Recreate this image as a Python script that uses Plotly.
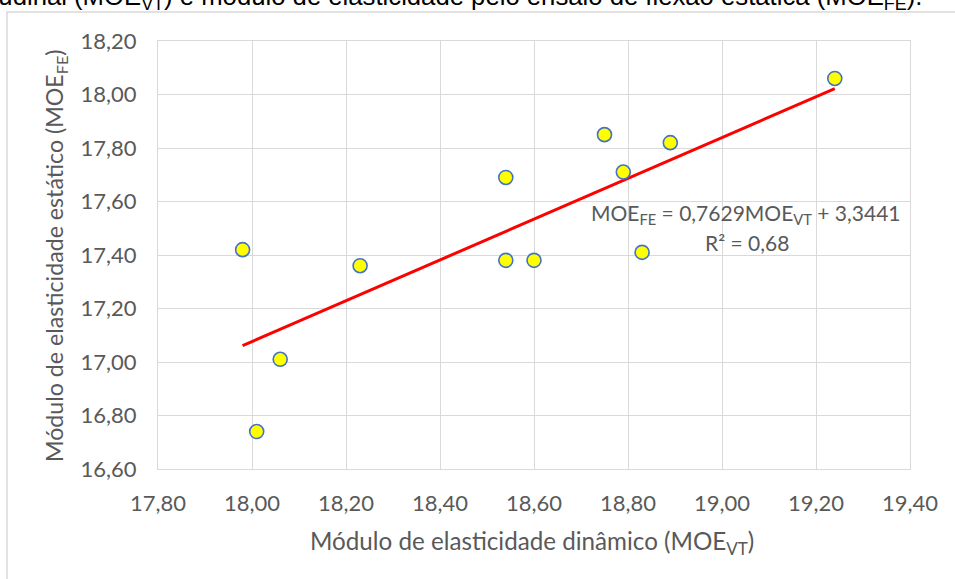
import plotly.graph_objects as go

# Data
moe_vt = [17.98, 18.01, 18.06, 18.23, 18.54, 18.54, 18.60, 18.75, 18.79, 18.83, 18.89, 19.24]
moe_fe = [17.42, 16.74, 17.01, 17.36, 17.69, 17.38, 17.38, 17.85, 17.71, 17.41, 17.82, 18.06]

slope = 0.7629
intercept = 3.3441

x_ticks = [17.8, 18.0, 18.2, 18.4, 18.6, 18.8, 19.0, 19.2, 19.4]
y_ticks = [16.6, 16.8, 17.0, 17.2, 17.4, 17.6, 17.8, 18.0, 18.2]

W, H = 955, 579
L, R, T, B = 158, 45, 41, 110
PW, PH = W - L - R, H - T - B


def px(xp):
    return (xp - L) / PW


def py(yp):
    return (H - B - yp) / PH


FONT = "Lato"
GREY = "#595959"
GRID = "#d9d9d9"

x_line = [min(moe_vt), max(moe_vt)]
y_line = [slope * v + intercept for v in x_line]

fig = go.Figure()
fig.add_trace(go.Scatter(
    x=x_line, y=y_line, mode="lines",
    line=dict(color="#FF0000", width=3),
    showlegend=False, hoverinfo="skip",
))
fig.add_trace(go.Scatter(
    x=moe_vt, y=moe_fe, mode="markers",
    marker=dict(size=14, color="#FFFF00", line=dict(color="#4472C4", width=1.6)),
    showlegend=False,
))

axis_common = dict(
    showgrid=True, gridcolor=GRID, gridwidth=1,
    showline=True, linecolor=GRID, linewidth=1, mirror=True,
    zeroline=False, ticks="", tickformat=".2f",
    tickfont=dict(family=FONT, size=22, color=GREY),
    automargin=False,
)

fig.update_xaxes(range=[17.8, 19.4], tickvals=x_ticks, ticklabelstandoff=15, **axis_common)
fig.update_yaxes(range=[16.6, 18.2], tickvals=y_ticks, ticklabelstandoff=16, **axis_common)

annotations = [
    dict(text="Módulo de elasticidade dinâmico (MOE<sub>VT</sub>)",
         x=px(532), y=py(542), xref="paper", yref="paper",
         xanchor="center", yanchor="middle", showarrow=False,
         font=dict(family=FONT, size=24.2, color=GREY)),
    dict(text="Módulo de elasticidade estático (MOE<sub>FE</sub>)",
         x=px(56), y=py(256), xref="paper", yref="paper", textangle=-90,
         xanchor="center", yanchor="middle", showarrow=False,
         font=dict(family=FONT, size=23.2, color=GREY)),
    dict(text="MOE<sub>FE</sub> = 0,7629MOE<sub>VT</sub> + 3,3441",
         x=px(746), y=py(214), xref="paper", yref="paper",
         xanchor="center", yanchor="middle", showarrow=False,
         font=dict(family=FONT, size=21, color=GREY)),
    dict(text="R² = 0,68",
         x=px(747), y=py(242), xref="paper", yref="paper",
         xanchor="center", yanchor="middle", showarrow=False,
         font=dict(family=FONT, size=21, color=GREY)),
    dict(text="Figura. Relação entre o módulo de elasticidade pelo ensaio de vibração longitudinal (MOE<sub>VT</sub>) e módulo de elasticidade pelo ensaio de flexão estática (MOE<sub>FE</sub>).",
         x=px(924), y=py(-2), xref="paper", yref="paper",
         xanchor="right", yanchor="middle", showarrow=False,
         font=dict(family="Liberation Sans", size=25.7, color="#000000")),
]

fig.update_layout(
    width=W, height=H,
    margin=dict(l=L, r=R, t=T, b=B),
    paper_bgcolor="white", plot_bgcolor="white",
    separators=",.",
    annotations=annotations,
    shapes=[dict(type="rect", xref="paper", yref="paper",
                 x0=px(7), x1=px(1000), y0=py(700), y1=py(12),
                 line=dict(color=GRID, width=1.5), layer="below")],
)

fig.write_html("out.html")
